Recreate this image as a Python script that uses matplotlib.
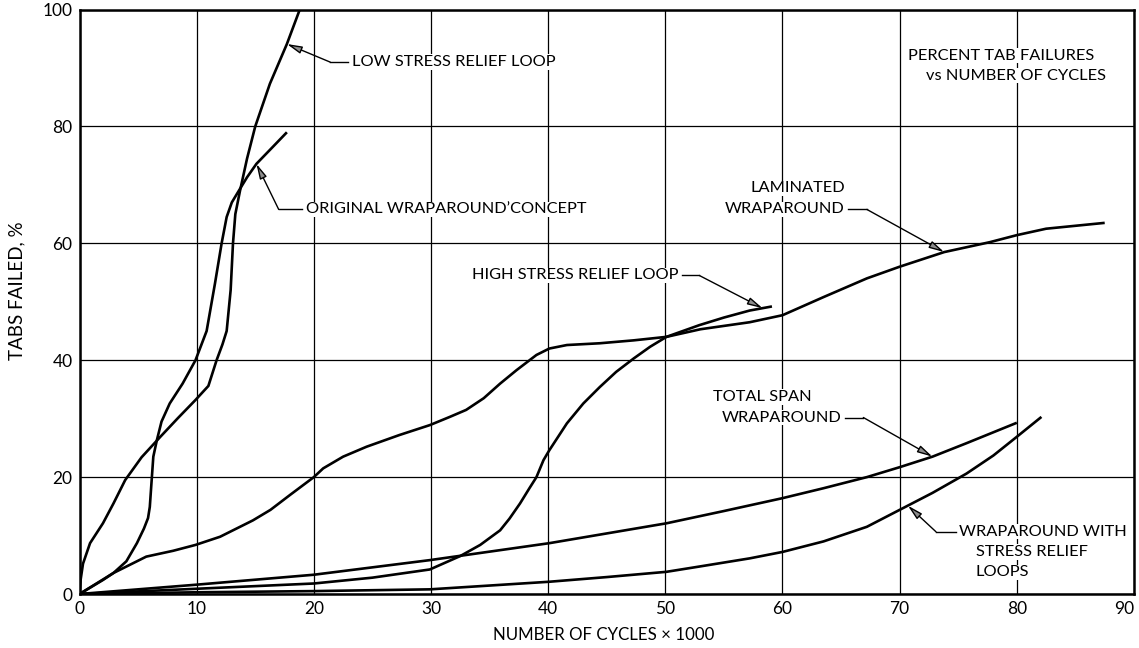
import numpy as np
import matplotlib
import matplotlib.pyplot as plt
matplotlib.use('Agg')

plt.rcParams['font.family'] = ['Lato', 'DejaVu Sans']

# cycles (x1000) / percent of tabs failed, read per curve
low_x = [0, 0.1, 0.3, 0.9, 2.0, 2.9, 3.9, 5.3, 6.9, 8.4, 9.9, 11.0, 11.7, 12.2, 12.56,
         12.9, 13.1, 13.3, 13.7, 14.3, 15.0, 16.25, 17.7, 18.8]
low_y = [0, 2.5, 5.2, 8.7, 12.1, 15.5, 19.5, 23.4, 26.9, 30.1, 33.2, 35.6, 40.0, 42.7, 45.0,
         52.0, 60.0, 65.0, 69.0, 74.5, 80.0, 87.3, 94.1, 100]

orig_x = [0, 1.0, 2.0, 2.9, 4.0, 4.9, 5.5, 5.85, 6.0, 6.1, 6.3, 6.6, 7.0, 7.7, 8.8,
          9.9, 10.85, 11.56, 12.13, 12.56, 13.0, 13.6, 14.3, 15.1, 16.5, 17.7]
orig_y = [0, 1.2, 2.4, 3.6, 5.6, 8.7, 11.2, 13.0, 14.9, 17.8, 23.5, 26.3, 29.5, 32.6, 36.0,
          40.0, 45.0, 53.1, 60.0, 64.5, 67.0, 69.0, 71.3, 73.6, 76.5, 79.0]

lam_x = [0, 2.9, 5.7, 8.0, 9.9, 12.0, 14.8, 16.3, 18.0, 20.0, 20.8, 22.5, 24.5, 27.3,
         29.9, 31.6, 33.0, 34.5, 35.9, 37.3, 39.0, 40.1, 41.6, 44.4, 47.3, 50.1, 53.0,
         57.2, 60.0, 63.5, 67.2, 70.0, 73.8, 77.7, 80.0, 82.5, 85.0, 87.5]
lam_y = [0, 3.6, 6.4, 7.4, 8.4, 9.8, 12.6, 14.4, 17.0, 20.0, 21.5, 23.5, 25.2, 27.2,
         28.9, 30.3, 31.5, 33.5, 36.0, 38.3, 40.9, 42.0, 42.6, 42.9, 43.4, 44.0, 45.3,
         46.5, 47.7, 50.8, 54.0, 56.0, 58.5, 60.2, 61.4, 62.5, 63.0, 63.5]

high_x = [0, 10, 20, 25, 29.9, 32.5, 34.2, 35.9, 36.7, 37.6, 38.4, 39.0, 39.6, 40.1,
          41.6, 43.0, 44.4, 45.8, 47.3, 48.7, 50.1, 52.9, 55.0, 57.2, 59.1]
high_y = [0, 0.9, 1.8, 2.8, 4.2, 6.5, 8.4, 10.9, 12.9, 15.5, 18.1, 20.0, 22.9, 24.6,
          29.2, 32.6, 35.4, 38.0, 40.3, 42.3, 44.0, 46.0, 47.3, 48.5, 49.2]

span_x = [0, 10, 20, 29.9, 40.1, 50.1, 55, 60, 63.5, 67.2, 70, 72.8, 75.7, 80]
span_y = [0, 1.6, 3.3, 5.8, 8.7, 12.1, 14.2, 16.4, 18.1, 20.0, 21.7, 23.5, 25.8, 29.3]

loops_x = [0, 10, 20, 29.9, 40.1, 45, 50.1, 52.9, 57.2, 60, 63.5, 67.2, 70, 72.8,
           75.7, 78, 80, 82.1]
loops_y = [0, 0.3, 0.5, 0.8, 2.1, 2.9, 3.8, 4.7, 6.1, 7.2, 9.0, 11.5, 14.4, 17.3,
           20.6, 23.7, 26.9, 30.3]

x_ticks = np.arange(0, 91, 10)
y_ticks = np.arange(0, 101, 20)

fig = plt.figure(figsize=(11.39, 6.48), dpi=100)
ax = fig.add_axes([0.0698, 0.0833, 0.9258, 0.902])

for xs, ys in [(low_x, low_y), (orig_x, orig_y), (lam_x, lam_y),
               (high_x, high_y), (span_x, span_y), (loops_x, loops_y)]:
    ax.plot(xs, ys, color='black', lw=1.9, solid_capstyle='butt',
            solid_joinstyle='round', zorder=3)

ax.set_xlim(0, 90)
ax.set_ylim(0, 100)
ax.set_xticks(x_ticks)
ax.set_yticks(y_ticks)
ax.grid(True, color='black', lw=0.9)
ax.set_axisbelow(True)
ax.tick_params(length=0, labelsize=12.5, pad=5)
ax.get_xticklabels()[-1].set_ha('right')
for s in ax.spines.values():
    s.set_linewidth(1.8)

fig.text(604 / 1139, 1 - 635 / 648, 'NUMBER OF CYCLES \u00d7 1000',
         ha='center', va='center', fontsize=12.2)
fig.text(17 / 1139, 1 - 291 / 648, 'TABS FAILED, %', rotation=90,
         ha='center', va='center', fontsize=13.5)

txt = dict(fontsize=11.8, va='center', zorder=4,
           bbox=dict(fc='white', ec='none', pad=0.5))
arrow = dict(arrowstyle='-|>,head_length=0.9,head_width=0.22',
             fc='0.55', ec='black', lw=1.0, shrinkA=0, shrinkB=0)


def leader(tip, elbow, end):
    # horizontal stub next to the label, then a slanted line ending in an arrow
    ax.plot([elbow[0], end[0]], [elbow[1], end[1]], color='black', lw=1.0, zorder=4)
    ax.annotate('', xy=tip, xytext=elbow, arrowprops=arrow, zorder=5)


# low stress relief loop
leader((low_x[22], low_y[22]), (21.4, 91.0), (22.9, 91.0))
ax.text(23.3, 91.0, 'LOW STRESS RELIEF LOOP', ha='left', **txt)

# original wraparound concept
leader((orig_x[23], orig_y[23]), (17.0, 65.8), (18.96, 65.8))
ax.text(19.3, 65.8, 'ORIGINAL WRAPAROUND\u2019CONCEPT', ha='left', **txt)

# high stress relief loop
leader((58.3, np.interp(58.3, high_x, high_y)), (52.9, 54.5), (51.4, 54.5))
ax.text(51.1, 54.5, 'HIGH STRESS RELIEF LOOP', ha='right', **txt)

# laminated wraparound
leader((lam_x[32], lam_y[32]), (67.2, 65.8), (65.6, 65.8))
ax.text(61.3, 69.4, 'LAMINATED', ha='center', **txt)
ax.text(65.3, 65.8, 'WRAPAROUND', ha='right', **txt)

# total span wraparound
leader((span_x[11], span_y[11]), (66.9, 30.2), (65.3, 30.2))
ax.text(58.3, 33.7, 'TOTAL SPAN', ha='center', **txt)
ax.text(65.0, 30.2, 'WRAPAROUND', ha='right', **txt)

# wraparound with stress relief loops
leader((70.7, np.interp(70.7, loops_x, loops_y)), (73.1, 10.65), (74.85, 10.65))
ax.text(75.1, 10.65, 'WRAPAROUND WITH', ha='left', **txt)
ax.text(76.5, 7.2, 'STRESS RELIEF', ha='left', **txt)
ax.text(76.5, 3.7, 'LOOPS', ha='left', **txt)

# chart title inside the grid
ax.text(78.7, 92.1, 'PERCENT TAB FAILURES', ha='center', **txt)
ax.text(79.9, 88.7, 'vs NUMBER OF CYCLES', ha='center', **txt)

fig.savefig('out.png', dpi=100)
